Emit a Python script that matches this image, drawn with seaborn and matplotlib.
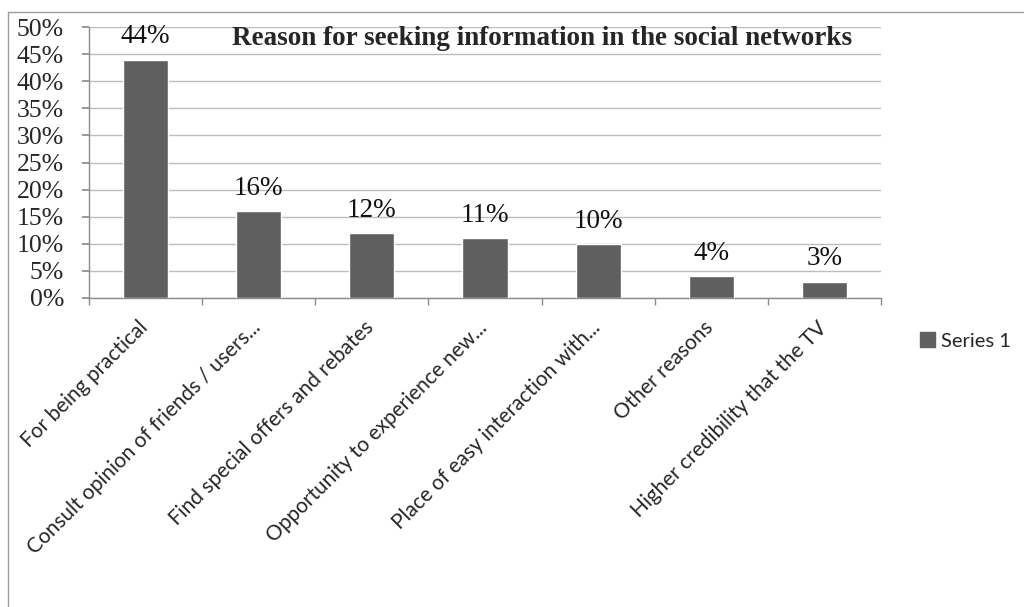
import matplotlib
matplotlib.use("Agg")
import matplotlib.pyplot as plt
import matplotlib.patches as mpatches
import matplotlib.transforms as mtransforms
from matplotlib.lines import Line2D
import seaborn as sns
import pandas as pd

categories = [
    "For being practical",
    "Consult opinion of friends / users...",
    "Find special offers and rebates",
    "Opportunity to experience new...",
    "Place of easy interaction with...",
    "Other reasons",
    "Higher credibility that the TV",
]
values = [44, 16, 12, 11, 10, 4, 3]
y_ticks = [0, 5, 10, 15, 20, 25, 30, 35, 40, 45, 50]
series_name = "Series 1"
title = "Reason for seeking information in the social networks"

sns.set_theme(style="white")
plt.rcParams["font.family"] = ["Liberation Serif", "DejaVu Serif"]

bar_color = "#5f5f5f"
grid_color = "#bdbdbd"
axis_color = "#8c8c8c"

df = pd.DataFrame({"reason": categories, "pct": values})

W, H = 1024, 607
fig = plt.figure(figsize=(W / 100, H / 100), dpi=100)
ax = fig.add_axes([89 / W, 1 - 298 / H, (881 - 89) / W, (298 - 27) / H])

sns.barplot(data=df, x="reason", y="pct", color=bar_color, width=0.40,
            saturation=1, ax=ax, zorder=3)

ax.set_xlim(-0.5, len(categories) - 0.5)
ax.set_ylim(0, 50)
ax.set_yticks(y_ticks)
ax.set_yticklabels([f"{t}%" for t in y_ticks], fontsize=18.5,
                   fontfamily="Liberation Serif")
ax.yaxis.grid(True, color=grid_color, linewidth=1, zorder=0)
ax.set_axisbelow(True)
ax.set_xlabel("")
ax.set_ylabel("")

for side in ["top", "right"]:
    ax.spines[side].set_visible(False)
for side in ["left", "bottom"]:
    ax.spines[side].set_color(axis_color)
    ax.spines[side].set_linewidth(1)

# Category boundaries carry the tick marks
ax.set_xticks([i - 0.5 for i in range(len(categories) + 1)], minor=True)
ax.set_xticks(range(len(categories)))
ax.tick_params(axis="x", which="major", length=0, pad=14)
ax.tick_params(axis="x", which="minor", length=5, color=axis_color,
               direction="out", bottom=True)
ax.tick_params(axis="y", length=5, color=axis_color, direction="out",
               left=True, pad=13)
ax.set_xticklabels(categories, rotation=45, ha="right",
                   rotation_mode="anchor", fontsize=15,
                   fontfamily=["Lato", "DejaVu Sans"])
shift = mtransforms.ScaledTranslation(-8 / 100, 0, fig.dpi_scale_trans)
for lbl in ax.get_xticklabels():
    lbl.set_transform(lbl.get_transform() + shift)

for i, v in enumerate(values):
    ax.text(i, v + 3.0, f"{v}%", ha="center", va="baseline", fontsize=19.5,
            fontfamily="Liberation Serif", color="#111111")

ax.text((542 - 89) / (881 - 89), 46.7, title,
        transform=ax.get_yaxis_transform(), ha="center", va="baseline",
        fontsize=19.5, fontweight="bold", fontfamily="Liberation Serif")

handle = mpatches.Patch(color=bar_color, label=series_name)
fig.legend(handles=[handle], loc="center left",
           bbox_to_anchor=(902 / W, 1 - 341 / H), frameon=False,
           prop={"family": "Lato", "size": 14.5}, handlelength=0.75,
           handleheight=0.75, handletextpad=0.3)

# Outer chart frame
fig.add_artist(Line2D([8 / W, 8 / W], [0, 1 - 12 / H],
                      transform=fig.transFigure, color="#9a9a9a", lw=1))
fig.add_artist(Line2D([8 / W, 1], [1 - 12 / H, 1 - 12 / H],
                      transform=fig.transFigure, color="#9a9a9a", lw=1))

fig.savefig("out.png", dpi=100, facecolor="white")
